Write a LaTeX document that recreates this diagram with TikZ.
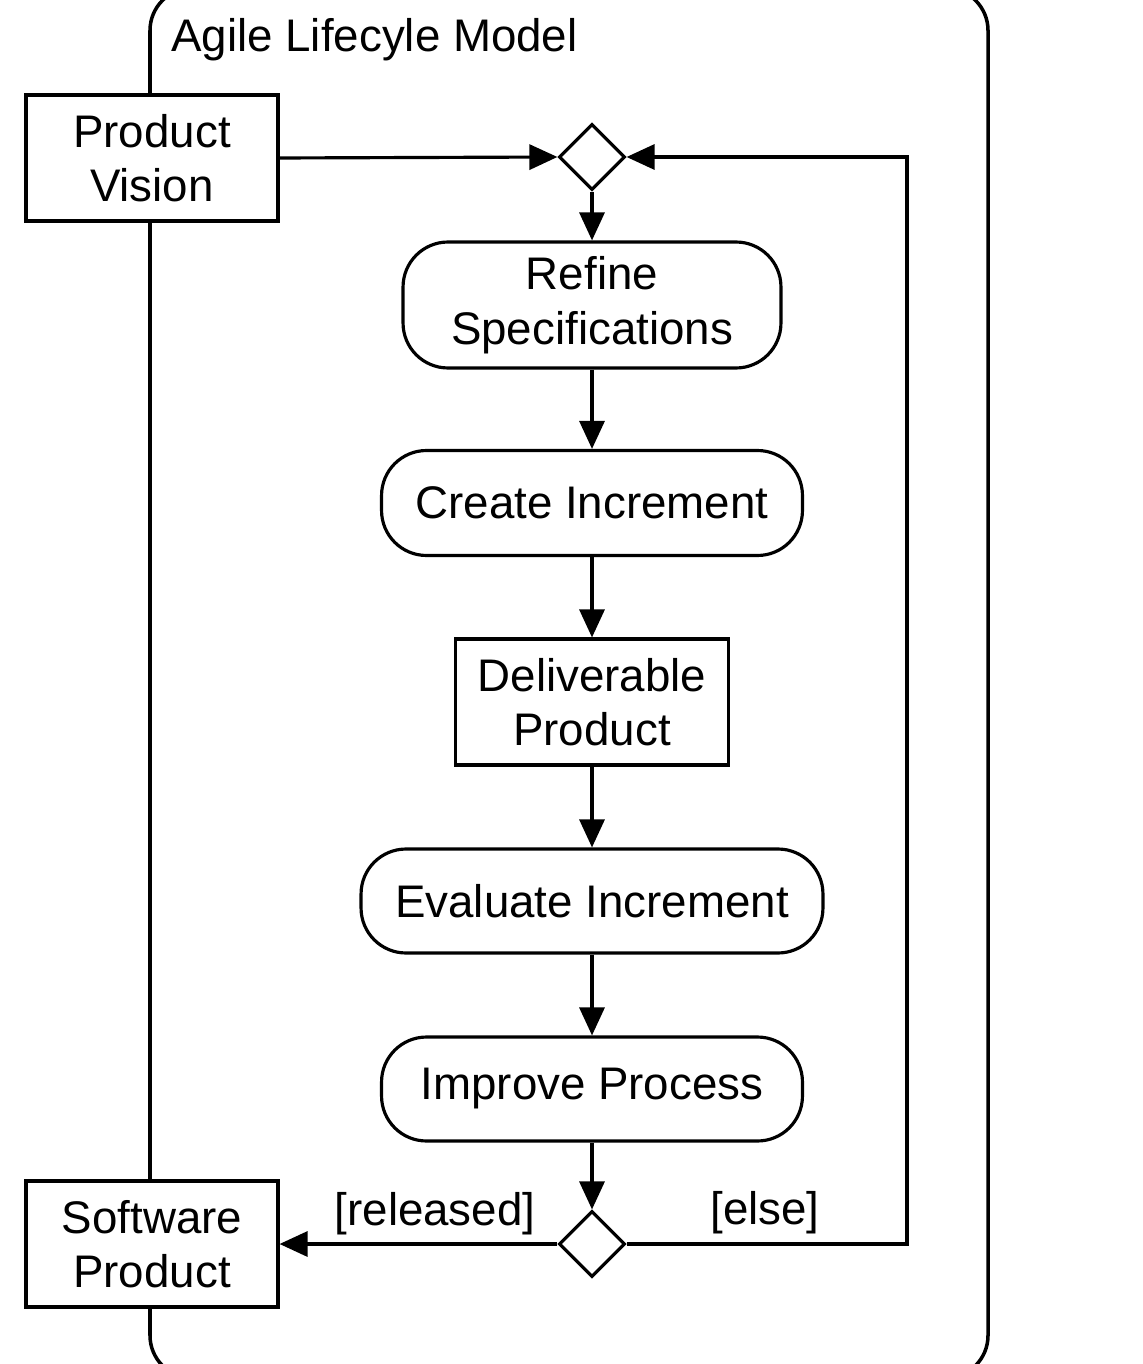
\documentclass[tikz,border=0pt]{standalone}
\usepackage{fontspec}
\setmainfont{Liberation Sans}
\usetikzlibrary{shapes.geometric,arrows.meta}
\begin{document}
\begin{tikzpicture}[x=0.02cm,y=-0.02cm,
  every node/.style={font=\fontsize{26}{31}\selectfont},
  lw/.style={line width=1.8pt},
  objbox/.style={lw,draw,rectangle,inner sep=0pt,align=center,minimum width=5.04cm,minimum height=2.52cm},
  actbox/.style={lw,draw,rectangle,rounded corners=0.9cm,inner sep=0pt,align=center},
  decision/.style={lw,draw,diamond,inner sep=0pt,minimum width=1.32cm,minimum height=1.32cm,fill=white},
  flow/.style={lw,-{Triangle[length=0.56cm,width=0.5cm]}},
  lbl/.style={inner sep=0pt}
]
\useasboundingbox (0,0) rectangle (1142,1364);
\clip (0,0) rectangle (1142,1364);
\fill[white] (0,0) rectangle (1142,1364);
% frame
\draw[line width=2pt,rounded corners=0.85cm] (150,-12) rectangle (988,1378);
\node[lbl,anchor=base west] (title) at (171,52) {Agile Lifecyle Model};

\node[objbox,fill=white] (pv) at (152,158) {Product\\Vision};
\node[objbox,fill=white] (sp) at (152,1244) {Software\\Product};
\node[decision] (d1) at (592,157) {};
\node[actbox,minimum width=7.56cm,minimum height=2.52cm] (rs) at (592,305) {Refine\\Specifications};
\node[actbox,minimum width=8.42cm,minimum height=2.1cm] (ci) at (592,503) {Create Increment};
\node[objbox,minimum width=5.46cm,minimum height=2.52cm] (dp) at (592,702) {Deliverable\\Product};
\node[actbox,minimum width=9.24cm,minimum height=2.08cm] (ei) at (592,901) {Evaluate Increment};
\node[actbox,minimum width=8.42cm,minimum height=2.08cm] (ip) at (592,1089) {Improve Process};
\node[decision] (d2) at (592,1244) {};
\coordinate (lr) at (907,1244);
\coordinate (ur) at (907,157);

\draw[flow] (pv.east) -- (d1.west);
\draw[flow] (d1.south) -- (rs.north);
\draw[flow] (rs) -- (ci);
\draw[flow] (ci) -- (dp);
\draw[flow] (dp) -- (ei);
\draw[flow] (ei) -- (ip);
\draw[flow] (ip) -- (d2.north);
\draw[flow] (d2.west) -- (sp.east);
\draw[flow] (d2.east) -- (lr) -- (ur) -- (d1.east);

\node[lbl] (rel) at (435,1214) {[released]};
\node[lbl] (els) at (765,1213) {[else]};
\end{tikzpicture}
\end{document}
